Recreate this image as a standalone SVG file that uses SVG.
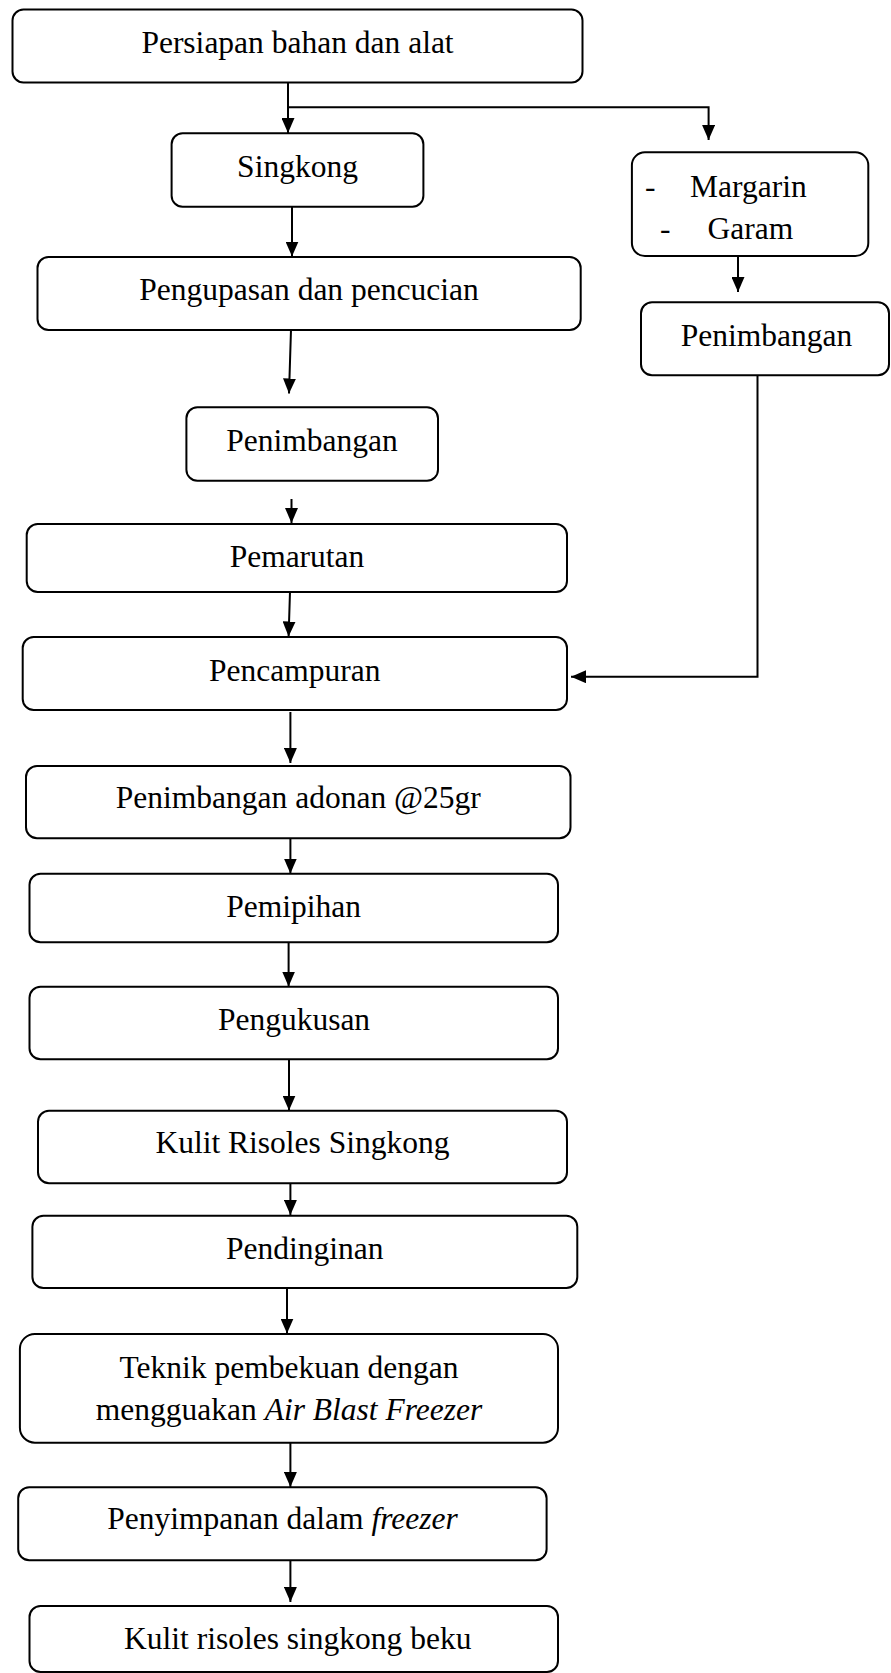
<svg xmlns="http://www.w3.org/2000/svg" width="891" height="1673" viewBox="0 0 891 1673">
<style>
.box{fill:#fff;stroke:#000;stroke-width:2}
.t{font-family:"Liberation Serif","Times New Roman",serif;font-size:31.5px;fill:#000;text-anchor:middle}
.ts{font-family:"Liberation Serif","Times New Roman",serif;font-size:31.5px;fill:#000}
.c{fill:none;stroke:#000;stroke-width:2}
</style>
<defs>
<marker id="ah" markerUnits="userSpaceOnUse" markerWidth="15" markerHeight="13" refX="15" refY="6.5" orient="auto">
<path d="M0,0 L15,6.5 L0,13 z" fill="#000"/>
</marker>
</defs>
<rect width="891" height="1673" fill="#fff"/>
<g id="connectors">
<path class="c" d="M288,82.5 V133" marker-end="url(#ah)"/>
<path class="c" d="M288,107.3 H708.6 V140" marker-end="url(#ah)"/>
<path class="c" d="M292,207 V256.5" marker-end="url(#ah)"/>
<path class="c" d="M738,256 V292" marker-end="url(#ah)"/>
<path class="c" d="M291,330 L289,393.5" marker-end="url(#ah)"/>
<path class="c" d="M291.5,499 V523" marker-end="url(#ah)"/>
<path class="c" d="M290,592 L288.6,636.5" marker-end="url(#ah)"/>
<path class="c" d="M757.5,375.5 V676.7 H571" marker-end="url(#ah)"/>
<path class="c" d="M290.4,712 V763" marker-end="url(#ah)"/>
<path class="c" d="M290.4,838.5 V873.5" marker-end="url(#ah)"/>
<path class="c" d="M288.6,942.5 V986.5" marker-end="url(#ah)"/>
<path class="c" d="M289,1052 V1110.5" marker-end="url(#ah)"/>
<path class="c" d="M290.4,1177 V1215" marker-end="url(#ah)"/>
<path class="c" d="M287,1288 V1333.5" marker-end="url(#ah)"/>
<path class="c" d="M290.4,1443 V1487" marker-end="url(#ah)"/>
<path class="c" d="M290.4,1560.5 V1602" marker-end="url(#ah)"/>
</g>
<g id="n1"><rect class="box" x="12.5" y="9.5" width="570" height="73" rx="11"/><text class="t" x="297.5" y="53.3">Persiapan bahan dan alat</text></g>
<g id="n2"><rect class="box" x="171.6" y="133.3" width="251.8" height="73.4" rx="11"/><text class="t" x="297.5" y="176.7">Singkong</text></g>
<g id="n3"><rect class="box" x="631.9" y="152.3" width="236.4" height="103.7" rx="13"/><text class="ts" x="645" y="196.7">-</text><text class="ts" x="690" y="196.7">Margarin</text><text class="ts" x="660" y="239.3">-</text><text class="ts" x="707.5" y="239.3">Garam</text></g>
<g id="n4"><rect class="box" x="37.5" y="257" width="543.2" height="73" rx="11"/><text class="t" x="309" y="300">Pengupasan dan pencucian</text></g>
<g id="n5"><rect class="box" x="641" y="302.3" width="248" height="73" rx="11"/><text class="t" x="766.5" y="345.7">Penimbangan</text></g>
<g id="n6"><rect class="box" x="186.4" y="407.3" width="251.6" height="73.4" rx="11"/><text class="t" x="312" y="451">Penimbangan</text></g>
<g id="n7"><rect class="box" x="26.7" y="524" width="540.3" height="68" rx="11"/><text class="t" x="297" y="566.7">Pemarutan</text></g>
<g id="n8"><rect class="box" x="22.7" y="637" width="544.3" height="73" rx="11"/><text class="t" x="294.8" y="681">Pencampuran</text></g>
<g id="n9"><rect class="box" x="26" y="766" width="544.5" height="72.3" rx="11"/><text class="t" x="298.3" y="808.3">Penimbangan adonan @25gr</text></g>
<g id="n10"><rect class="box" x="29.5" y="873.7" width="528.5" height="68.6" rx="11"/><text class="t" x="293.7" y="916.7">Pemipihan</text></g>
<g id="n11"><rect class="box" x="29.5" y="986.7" width="528.5" height="72.6" rx="11"/><text class="t" x="294" y="1030">Pengukusan</text></g>
<g id="n12"><rect class="box" x="38" y="1110.7" width="529" height="72.6" rx="11"/><text class="t" x="302.5" y="1153.3">Kulit Risoles Singkong</text></g>
<g id="n13"><rect class="box" x="32.4" y="1215.7" width="544.9" height="72.3" rx="11"/><text class="t" x="304.8" y="1259">Pendinginan</text></g>
<g id="n14"><rect class="box" x="19.9" y="1334" width="538.1" height="108.7" rx="15"/><text class="t" x="289" y="1378.3">Teknik pembekuan dengan</text><text class="t" x="289" y="1420">mengguakan <tspan font-style="italic">Air Blast Freezer</tspan></text></g>
<g id="n15"><rect class="box" x="18.2" y="1487.3" width="528.4" height="73" rx="11"/><text class="t" x="282.5" y="1529.3">Penyimpanan dalam <tspan font-style="italic">freezer</tspan></text></g>
<g id="n16"><rect class="box" x="29.5" y="1606" width="528.5" height="66" rx="11"/><text class="t" x="297.8" y="1649.3">Kulit risoles singkong beku</text></g>
</svg>
